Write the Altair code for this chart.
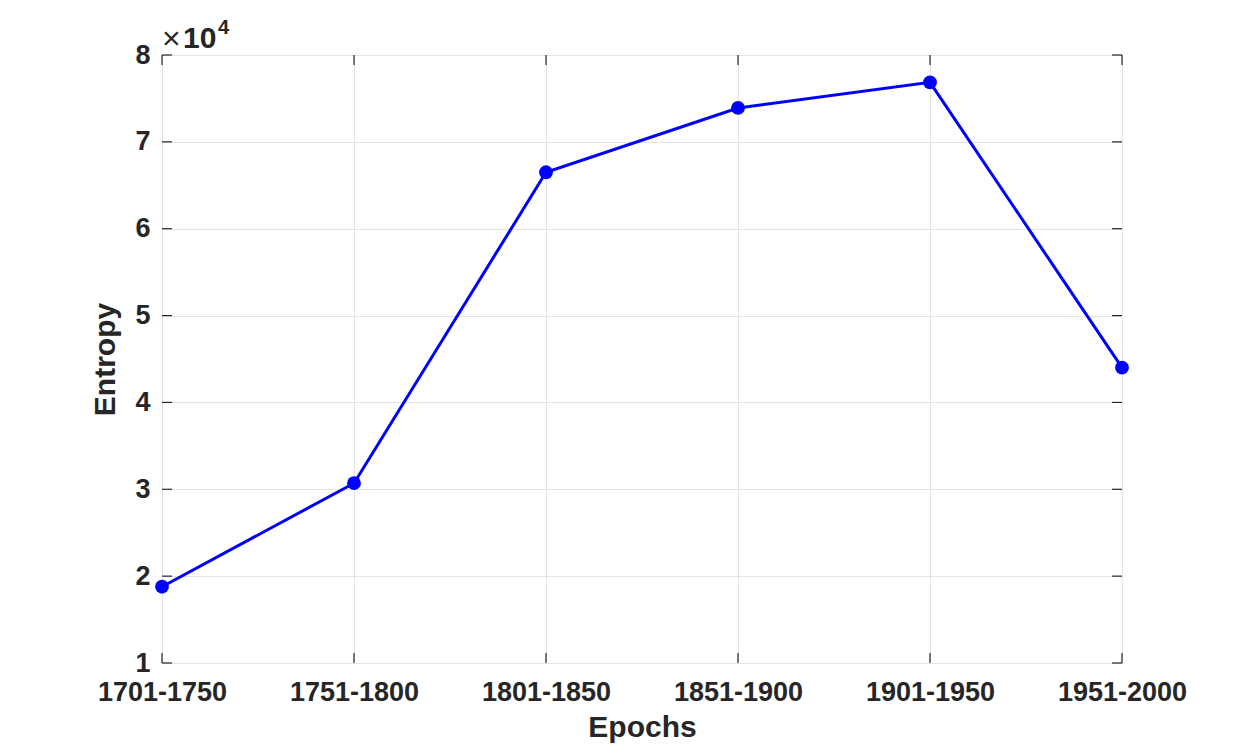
import altair as alt
import pandas as pd

epochs = ["1701-1750", "1751-1800", "1801-1850", "1851-1900", "1901-1950", "1951-2000"]
entropy = [18780, 30700, 66500, 73900, 76850, 44000]
y_ticks = [10000, 20000, 30000, 40000, 50000, 60000, 70000, 80000]

df = pd.DataFrame({"Epochs": epochs, "Entropy": entropy})

W, H = 960, 608
FONT = "Liberation Sans"
TXT = "#262626"

base = alt.Chart(df)

x_enc = alt.X("Epochs:N", sort=epochs, title="Epochs",
              scale=alt.Scale(type="point", padding=0),
              axis=alt.Axis(labelAngle=0, labelFontSize=27, labelFontWeight="bold",
                            labelColor=TXT, labelFont=FONT, labelPadding=16,
                            titleFontSize=30, titleFontWeight="bold", titleColor=TXT,
                            titleFont=FONT, titlePadding=7, grid=True, gridColor="#e3e3e3",
                            tickSize=0, domain=False))
y_enc = alt.Y("Entropy:Q", title="Entropy",
              scale=alt.Scale(domain=[10000, 80000], nice=False),
              axis=alt.Axis(values=y_ticks,
                            labelExpr="datum.value / 10000",
                            labelFontSize=27, labelFontWeight="bold", labelColor=TXT,
                            labelFont=FONT, labelPadding=12,
                            titleFontSize=30, titleFontWeight="bold", titleColor=TXT,
                            titleFont=FONT, titlePadding=14, grid=True, gridColor="#e3e3e3",
                            tickSize=0, domain=False))

line = base.mark_line(color="#0000ff", strokeWidth=3,
                      point=alt.OverlayMarkDef(color="#0000ff", size=190, filled=True, opacity=1)
                      ).encode(x=x_enc, y=y_enc)

# inward ticks (MATLAB style)
ticks_bottom = base.mark_rule(color=TXT, strokeWidth=1.2).encode(
    x=alt.X("Epochs:N", sort=epochs), y=alt.value(H), y2=alt.value(H - 10))
ticks_top = base.mark_rule(color=TXT, strokeWidth=1.2).encode(
    x=alt.X("Epochs:N", sort=epochs), y=alt.value(0), y2=alt.value(10))

ydf = pd.DataFrame({"v": y_ticks})
ticks_left = alt.Chart(ydf).mark_rule(color=TXT, strokeWidth=1.2).encode(
    y=alt.Y("v:Q"), x=alt.value(0), x2=alt.value(10))
ticks_right = alt.Chart(ydf).mark_rule(color=TXT, strokeWidth=1.2).encode(
    y=alt.Y("v:Q"), x=alt.value(W), x2=alt.value(W - 10))

times = alt.Chart(pd.DataFrame({"t": ["×"]})).mark_text(
    font=FONT, fontSize=32, color=TXT, align="left", baseline="alphabetic"
).encode(text="t:N", x=alt.value(0), y=alt.value(-6))
ten = alt.Chart(pd.DataFrame({"t": ["10"]})).mark_text(
    font=FONT, fontSize=30, fontWeight="bold", color=TXT, align="left", baseline="alphabetic"
).encode(text="t:N", x=alt.value(21), y=alt.value(-7))
exp4 = alt.Chart(pd.DataFrame({"t": ["4"]})).mark_text(
    font=FONT, fontSize=20, fontWeight="bold", color=TXT, align="left", baseline="alphabetic"
).encode(text="t:N", x=alt.value(56), y=alt.value(-21))

chart = alt.layer(line, ticks_bottom, ticks_top, ticks_left, ticks_right, times, ten, exp4).properties(
    width=W, height=H,
    autosize=alt.AutoSizeParams(type="none"),
    padding={"left": 154, "top": 47, "right": 110, "bottom": 80},
).configure_view(stroke=TXT, strokeWidth=1.2).configure(background="white")

chart.save("out.html", embed_options={"renderer": "svg", "actions": False})
